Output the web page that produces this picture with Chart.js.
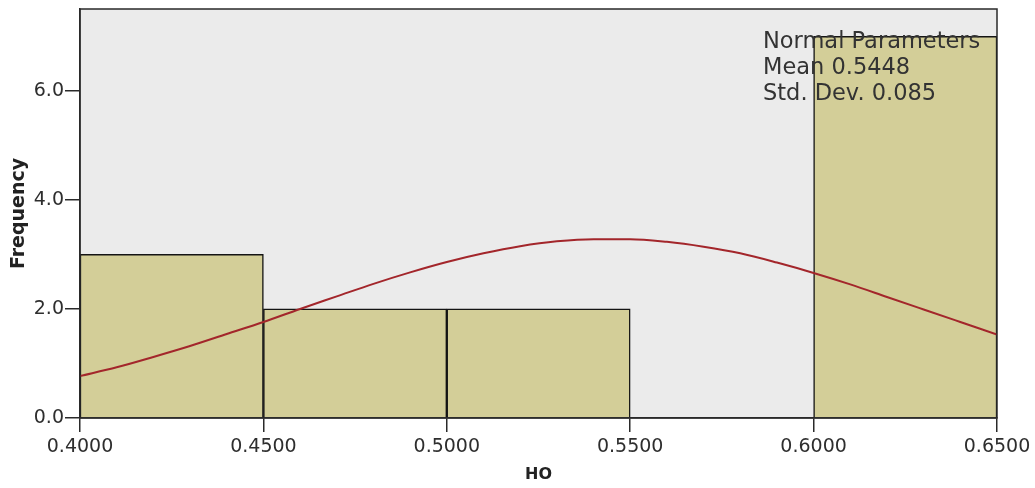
<!DOCTYPE html>
<html>
<head>
<meta charset="utf-8">
<script src="https://cdn.jsdelivr.net/npm/chart.js@4.4.1/dist/chart.umd.min.js"></script>
<style>
  html, body { margin: 0; padding: 0; background: #fff; }
  #wrap { width: 1035px; height: 488px; }
</style>
</head>
<body>
<div id="wrap"><canvas id="hist"></canvas></div>
<script>
// histogram bins (HO), width 0.05
const binCenters = [0.425, 0.475, 0.525, 0.575, 0.625];
const binCounts = [3, 2, 2, 0, 7];

// normal curve
const curveX = [0.40, 0.41, 0.42, 0.43, 0.44, 0.45, 0.46, 0.47, 0.48, 0.49, 0.50, 0.51, 0.52,
  0.53, 0.54, 0.55, 0.56, 0.57, 0.58, 0.59, 0.60, 0.61, 0.62, 0.63, 0.64, 0.65];
const curveY = [0.77, 0.93, 1.12, 1.32, 1.54, 1.76, 2.00, 2.23, 2.46, 2.67, 2.86, 3.02, 3.15,
  3.24, 3.28, 3.28, 3.23, 3.14, 3.02, 2.85, 2.66, 2.45, 2.22, 1.99, 1.76, 1.53];

const xTicks = [0.40, 0.45, 0.50, 0.55, 0.60, 0.65];
const yTicks = [0, 2, 4, 6];

const normalMean = '0.5448';
const normalSd = '0.085';

const tickFont = { family: 'DejaVu Sans', size: 19 };

const plotFrame = {
  id: 'plotFrame',
  beforeDraw(chart) {
    const { ctx, chartArea: a } = chart;
    ctx.save();
    ctx.fillStyle = '#ebebeb';
    ctx.fillRect(a.left, a.top, a.right - a.left, a.bottom - a.top);
    ctx.restore();
  },
  afterDraw(chart) {
    const { ctx, chartArea: a } = chart;
    ctx.save();
    ctx.strokeStyle = '#2a2a2a';
    ctx.lineWidth = 1.5;
    ctx.strokeRect(a.left, a.top, a.right - a.left, a.bottom - a.top);
    ctx.fillStyle = '#333';
    ctx.font = '22.5px "DejaVu Sans"';
    ctx.textBaseline = 'alphabetic';
    ctx.fillText('Normal Parameters', 763, 48);
    ctx.fillText('Mean ' + normalMean, 763, 74);
    ctx.fillText('Std. Dev. ' + normalSd, 763, 100);
    ctx.restore();
  },
};

new Chart(document.getElementById('hist'), {
  type: 'bar',
  data: {
    datasets: [
      {
        type: 'line',
        order: 0,
        data: curveX.map((x, i) => ({ x, y: curveY[i] })),
        borderColor: '#a3262b',
        borderWidth: 2,
        pointRadius: 0,
        cubicInterpolationMode: 'monotone',
        fill: false,
      },
      {
        type: 'bar',
        order: 1,
        data: binCenters.map((x, i) => ({ x, y: binCounts[i] })),
        backgroundColor: '#d3ce98',
        borderColor: '#141414',
        borderWidth: 1.5,
        barPercentage: 1,
        categoryPercentage: 1,
      },
    ],
  },
  options: {
    responsive: true,
    maintainAspectRatio: false,
    animation: false,
    layout: { padding: { left: 0, right: 38, top: 9, bottom: 0 } },
    plugins: {
      legend: { display: false },
      tooltip: { enabled: false },
    },
    scales: {
      x: {
        type: 'linear',
        min: 0.40,
        max: 0.65,
        offset: false,
        afterBuildTicks: (s) => { s.ticks = xTicks.map(v => ({ value: v })); },
        afterFit: (s) => { s.height = 70; s.paddingLeft = 0; s.paddingRight = 0; },
        ticks: {
          font: tickFont,
          color: '#2e2e2e',
          padding: 4,
          maxRotation: 0,
          autoSkip: false,
          callback: (v) => Number(v).toFixed(4),
        },
        grid: { display: true, drawOnChartArea: false, drawTicks: true, tickLength: 14, color: '#2a2a2a', lineWidth: 1.5, offset: false },
        border: { display: true, color: '#2a2a2a', width: 1.5 },
        title: { display: true, text: 'HO', font: { family: 'DejaVu Sans', size: 16, weight: 'bold' }, color: '#222', padding: { top: 0, bottom: 4 } },
      },
      y: {
        min: 0,
        max: 7.5,
        afterBuildTicks: (s) => { s.ticks = yTicks.map(v => ({ value: v })); },
        afterFit: (s) => { s.width = 80; s.paddingTop = 0; s.paddingBottom = 0; },
        ticks: {
          font: tickFont,
          color: '#2e2e2e',
          padding: 1,
          callback: (v) => Number(v).toFixed(1),
        },
        grid: { display: true, drawOnChartArea: false, drawTicks: true, tickLength: 15, color: '#2a2a2a', lineWidth: 1.5 },
        border: { display: true, color: '#2a2a2a', width: 1.5 },
        title: { display: true, text: 'Frequency', font: { family: 'DejaVu Sans', size: 19, weight: 'bold' }, color: '#222', padding: { top: 8, bottom: 0 } },
      },
    },
  },
  plugins: [plotFrame],
});
</script>
</body>
</html>
